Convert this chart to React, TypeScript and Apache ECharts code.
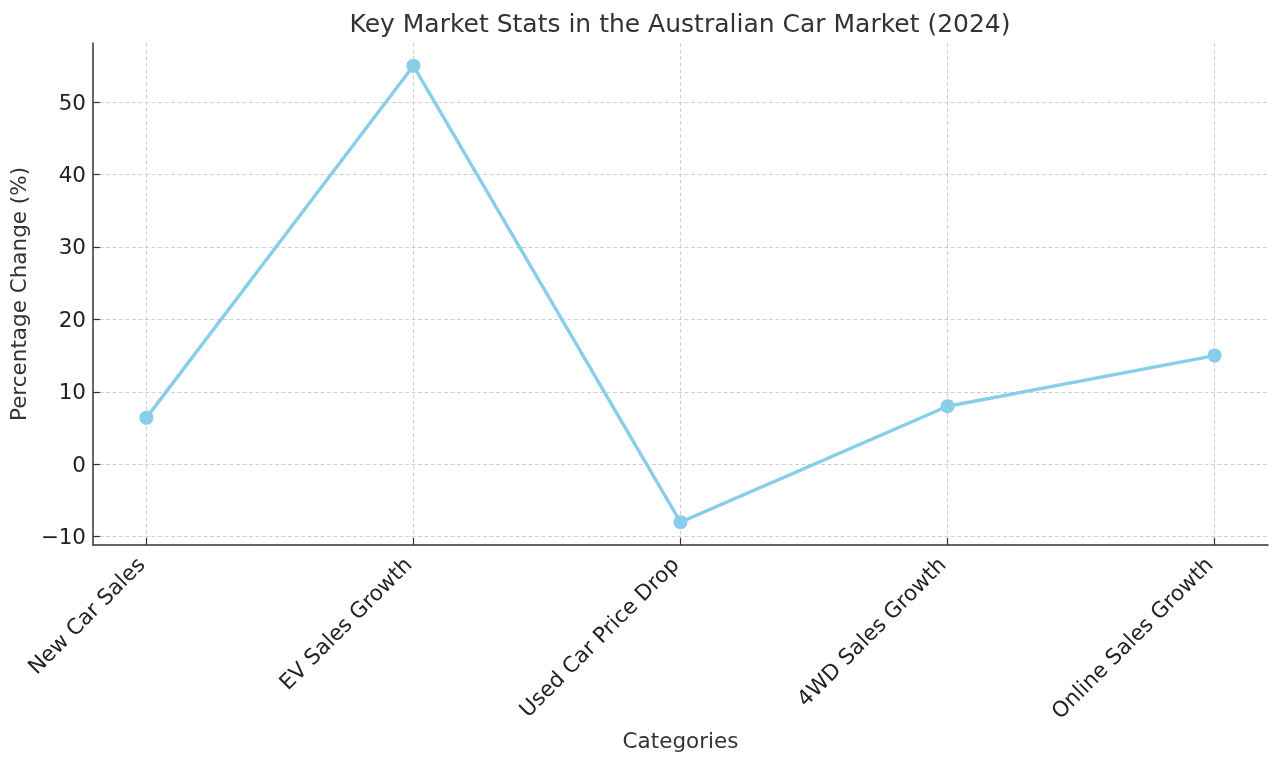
import React, { useEffect, useRef } from 'react';
import * as echarts from 'echarts';

// data
const categories = ['New Car Sales', 'EV Sales Growth', 'Used Car Price Drop', '4WD Sales Growth', 'Online Sales Growth'];
const changes = [6.4, 55, -8, 8, 15];
const yTicks = [-10, 0, 10, 20, 30, 40, 50];
const xTicks = [0, 1, 2, 3, 4];

const FONT = 'DejaVu Sans';

const App = () => {
    const chartRef = useRef<HTMLDivElement>(null);

    useEffect(() => {
        const chart = echarts.init(chartRef.current, null, { renderer: 'svg' });

        const points = changes.map((v, i) => [i, v]);

        const options = {
            animation: false,
            textStyle: { fontFamily: FONT },
            title: {
                text: 'Key Market Stats in the Australian Car Market (2024)',
                left: 675,
                textAlign: 'center',
                top: 6,
                textStyle: { fontFamily: FONT, fontSize: 25, fontWeight: 'normal', color: '#333' }
            },
            grid: { left: 93, right: 12, top: 43, bottom: 218, containLabel: false, outerBoundsMode: 'none' },
            xAxis: {
                type: 'value',
                min: -0.2,
                max: 4.2,
                name: 'Categories',
                nameLocation: 'middle',
                nameGap: 180,
                nameTextStyle: { fontFamily: FONT, fontSize: 21.5, color: '#333' },
                axisLine: { show: true, onZero: false, lineStyle: { color: '#333', width: 1.5 } },
                axisTick: { show: true, inside: true, length: 7, customValues: xTicks, lineStyle: { color: '#333', width: 1.2 } },
                axisLabel: {
                    customValues: xTicks,
                    rotate: 45,
                    margin: 10,
                    padding: [0, 8, 12, 0],
                    fontFamily: FONT,
                    fontSize: 21.5,
                    color: '#222',
                    formatter: (v: number) => categories[Math.round(v)] ?? ''
                },
                splitLine: { show: true, lineStyle: { color: '#d0d0d0', type: [4, 2.5], width: 1 } }
            },
            yAxis: {
                type: 'value',
                min: -11.15,
                max: 58.15,
                name: 'Percentage Change (%)',
                nameLocation: 'middle',
                nameGap: 58,
                nameTextStyle: { fontFamily: FONT, fontSize: 21.5, color: '#333' },
                axisLine: { show: true, onZero: false, lineStyle: { color: '#333', width: 1.5 } },
                axisTick: { show: true, inside: true, length: 7, customValues: yTicks, lineStyle: { color: '#333', width: 1.2 } },
                axisLabel: {
                    customValues: yTicks,
                    margin: 7,
                    fontFamily: FONT,
                    fontSize: 21.5,
                    color: '#222',
                    formatter: (v: number) => (v < 0 ? '\u2212' + Math.abs(v) : String(v))
                },
                splitLine: { show: true, lineStyle: { color: '#d0d0d0', type: [4, 2.5], width: 1 } }
            },
            series: [{
                type: 'line',
                data: points,
                symbol: 'circle',
                symbolSize: 14,
                lineStyle: { color: '#87CEEB', width: 3.4 },
                itemStyle: { color: '#87CEEB' }
            }]
        };

        chart.setOption(options);

        return () => {
            chart.dispose();
        };
    }, []);

    return (
        <div ref={chartRef} style={{ position: 'fixed', left: 0, top: 0, width: '1280px', height: '763px' }}></div>
    );
};

export default App;
